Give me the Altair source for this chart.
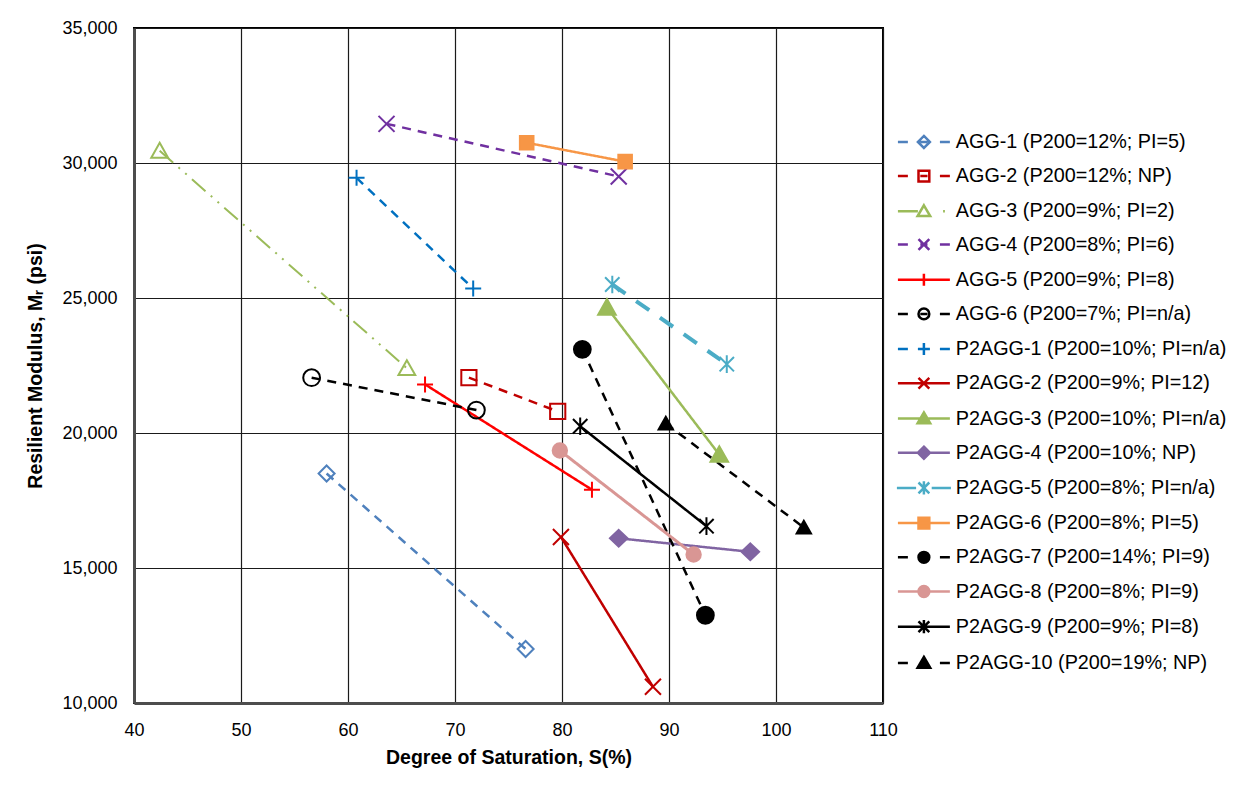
import altair as alt
import pandas as pd

# ---------------- data ----------------
SERIES = [
    "AGG-1 (P200=12%; PI=5)",
    "AGG-2 (P200=12%; NP)",
    "AGG-3 (P200=9%; PI=2)",
    "AGG-4 (P200=8%; PI=6)",
    "AGG-5 (P200=9%; PI=8)",
    "AGG-6 (P200=7%; PI=n/a)",
    "P2AGG-1 (P200=10%; PI=n/a)",
    "P2AGG-2 (P200=9%; PI=12)",
    "P2AGG-3 (P200=10%; PI=n/a)",
    "P2AGG-4 (P200=10%; NP)",
    "P2AGG-5 (P200=8%; PI=n/a)",
    "P2AGG-6 (P200=8%; PI=5)",
    "P2AGG-7 (P200=14%; PI=9)",
    "P2AGG-8 (P200=8%; PI=9)",
    "P2AGG-9 (P200=9%; PI=8)",
    "P2AGG-10 (P200=19%; NP)",
]
SAT_START = [58.0, 71.3, 42.4, 63.6, 67.2, 56.6, 60.8, 79.9, 84.2, 85.3, 84.7, 76.7, 81.9, 79.8, 81.7, 89.7]
MR_START = [18500, 22050, 30450, 31450, 21800, 22050, 29450, 16150, 24650, 16100, 25500, 30750, 23100, 19350, 20250, 20350]
SAT_END = [76.6, 79.6, 65.5, 85.3, 82.8, 72.0, 71.7, 88.5, 94.7, 97.6, 95.4, 85.9, 93.4, 92.3, 93.5, 102.6]
MR_END = [12000, 20800, 22400, 29500, 17900, 20850, 25350, 10600, 19200, 15600, 22550, 30050, 13250, 15500, 16550, 16500]

X_TICKS = [40, 50, 60, 70, 80, 90, 100, 110]
Y_TICKS = [10000, 15000, 20000, 25000, 30000, 35000]

# ---------------- styles ----------------
COLORS = ["#4F81BD", "#C00000", "#9BBB59", "#7030A0", "#FF0000", "#000000",
          "#0070C0", "#C00000", "#9BBB59", "#8064A2", "#4BACC6", "#F79646",
          "#000000", "#D99694", "#000000", "#000000"]
DASH = [9, 7]
SOLID = [1, 0]
DASHES = [DASH, DASH, [18, 7, 2, 7, 2, 7], DASH, SOLID, DASH,
          DASH, SOLID, SOLID, SOLID, [16, 13], SOLID,
          DASH, SOLID, SOLID, DASH]
LINE_WIDTHS = [2.5, 2.5, 2, 2.5, 2.5, 2.5, 2.5, 2.5, 2.5, 2.5, 4, 2.5, 2.5, 3, 2.5, 2.5]
T = "transparent"
FILLS = [T, T, T, T, T, T, T, T, "#9BBB59", "#8064A2", T, "#F79646",
         "#000000", "#D99694", T, "#000000"]

DIAMOND = "M0,-1L1,0L0,1L-1,0Z"
SQUARE = "M-0.95,-0.95H0.95V0.95H-0.95Z"
TRI_OPEN = "M0,-1L1.05,0.85H-1.05Z"
XMARK = "M-1,-1L1,1M-1,1L1,-1"
PLUS = "M-1,0H1M0,-1V1"
CIRCLE = "M-1.05,0A1.05,1.05 0 1,0 1.05,0A1.05,1.05 0 1,0 -1.05,0Z"
TRI_FILL = "M0,-1.05L1.1,0.9H-1.1Z"
DIAMOND_F = "M0,-1.05L1.1,0L0,1.05L-1.1,0Z"
STAR = "M-0.9,-0.9L0.9,0.9M-0.9,0.9L0.9,-0.9M0,-1.1V1.1"
SQUARE_F = "M-0.85,-0.85H0.85V0.85H-0.85Z"
CIRCLE_S = "M-0.9,0A0.9,0.9 0 1,0 0.9,0A0.9,0.9 0 1,0 -0.9,0Z"
TRI_SMALL = "M0,-0.85L0.9,0.75H-0.9Z"

PLOT_SHAPES = [DIAMOND, SQUARE, TRI_OPEN, XMARK, PLUS, CIRCLE,
               PLUS, XMARK, TRI_FILL, DIAMOND_F, STAR, SQUARE_F,
               CIRCLE, CIRCLE_S, STAR, TRI_SMALL]

# legend symbols: line stubs + marker (unit = half symbol width)
DSTUB = "M-4.33,0H-2.67M2.67,0H4.33M-0.6,0H0.6"
SSTUB = "M-4.33,0H4.33"
L_DIAMOND = "M0,-1L1,0L0,1L-1,0Z"
L_SQUARE = "M-0.9,-0.9H0.9V0.9H-0.9Z"
L_TRI = "M0,-1L1.05,0.8H-1.05Z"
L_X = "M-0.9,-0.9L0.9,0.9M-0.9,0.9L0.9,-0.9"
L_PLUS = "M-1,0H1M0,-1V1"
L_CIRCLE = "M-0.9,0A0.9,0.9 0 1,0 0.9,0A0.9,0.9 0 1,0 -0.9,0Z"
L_STAR = "M-0.9,-0.9L0.9,0.9M-0.9,0.9L0.9,-0.9M0,-1.1V1.1"
LEGEND_SHAPES = [
    DSTUB + L_DIAMOND,
    DSTUB + L_SQUARE,
    "M-4.33,0H-1M3.2,0H3.5" + L_TRI,
    DSTUB + L_X,
    SSTUB + L_PLUS,
    DSTUB + L_CIRCLE,
    DSTUB + L_PLUS,
    SSTUB + L_X,
    SSTUB + L_TRI,
    SSTUB + L_DIAMOND,
    "M-4.5,0H-1.3M1.3,0H4.5" + L_STAR,
    SSTUB + L_SQUARE,
    DSTUB + L_CIRCLE,
    SSTUB + L_CIRCLE,
    SSTUB + L_STAR,
    DSTUB + L_TRI,
]

rows = []
for i, s in enumerate(SERIES):
    rows.append({"series": s, "sat": SAT_START[i], "mr": MR_START[i]})
    rows.append({"series": s, "sat": SAT_END[i], "mr": MR_END[i]})
df = pd.DataFrame(rows)

FONT = "Liberation Sans"

x_enc = alt.X(
    "sat:Q",
    scale=alt.Scale(domain=[40, 110], nice=False, zero=False),
    axis=alt.Axis(values=X_TICKS, title="Degree of Saturation,  S(%)",
                  labelPadding=18, titlePadding=9,
                  labelExpr="format(datum.value, 'd')"),
)
y_enc = alt.Y(
    "mr:Q",
    scale=alt.Scale(domain=[10000, 35000], nice=False, zero=False),
    axis=alt.Axis(values=Y_TICKS, title="Resilient Modulus, Mᵣ (psi)",
                  labelPadding=17, titlePadding=16,
                  labelExpr="format(datum.value, ',.0f')"),
)

dom = SERIES

lines = alt.Chart(df).mark_line().encode(
    x=x_enc, y=y_enc,
    stroke=alt.Stroke("series:N", scale=alt.Scale(domain=dom, range=COLORS), legend=None),
    strokeDash=alt.StrokeDash("series:N", scale=alt.Scale(domain=dom, range=DASHES), legend=None),
    strokeWidth=alt.StrokeWidth("series:N", scale=alt.Scale(type="ordinal", domain=dom, range=LINE_WIDTHS), legend=None),
)

points = alt.Chart(df).mark_point(opacity=1, strokeWidth=2, size=256).encode(
    x=x_enc, y=y_enc,
    stroke=alt.Stroke("series:N", scale=alt.Scale(domain=dom, range=COLORS), legend=None),
    fill=alt.Fill("series:N", scale=alt.Scale(domain=dom, range=FILLS), legend=None),
    shape=alt.Shape("series:N", scale=alt.Scale(domain=dom, range=PLOT_SHAPES), legend=None),
)

leg = alt.Legend(
    title=None, orient="none", legendX=780, legendY=104, padding=0,
    labelFont=FONT, labelFontSize=19.8, labelColor="black", labelLimit=500,
    labelOffset=22, rowPadding=12.2, symbolSize=144, symbolStrokeWidth=2.5,
)

legend_layer = alt.Chart(df).transform_filter("false").mark_point(
    opacity=1, strokeWidth=2.5, size=144
).encode(
    x=x_enc, y=y_enc,
    stroke=alt.Stroke("series:N", scale=alt.Scale(domain=dom, range=COLORS), legend=leg),
    fill=alt.Fill("series:N", scale=alt.Scale(domain=dom, range=FILLS), legend=leg),
    shape=alt.Shape("series:N", scale=alt.Scale(domain=dom, range=LEGEND_SHAPES), legend=leg),
)

chart = alt.layer(lines, points, legend_layer).resolve_scale(
    stroke="independent", fill="independent", shape="independent", strokeWidth="independent"
).properties(
    width=749, height=675,
    autosize=alt.AutoSizeParams(type="none"),
    padding={"left": 134, "top": 28, "right": 365, "bottom": 85},
    background="white",
).configure_axis(
    grid=True, gridColor="#1a1a1a", gridWidth=1.2,
    domainColor="#4d4d4d", domainWidth=3, ticks=False,
    labelFont=FONT, labelFontSize=18, labelColor="black",
    labelFlush=False, labelOverlap=False,
    titleFont=FONT, titleFontSize=19.5, titleFontWeight="bold", titleColor="black",
).configure_view(stroke="black", strokeWidth=2)

chart.save("out.html", embed_options={"renderer": "svg", "actions": False})
